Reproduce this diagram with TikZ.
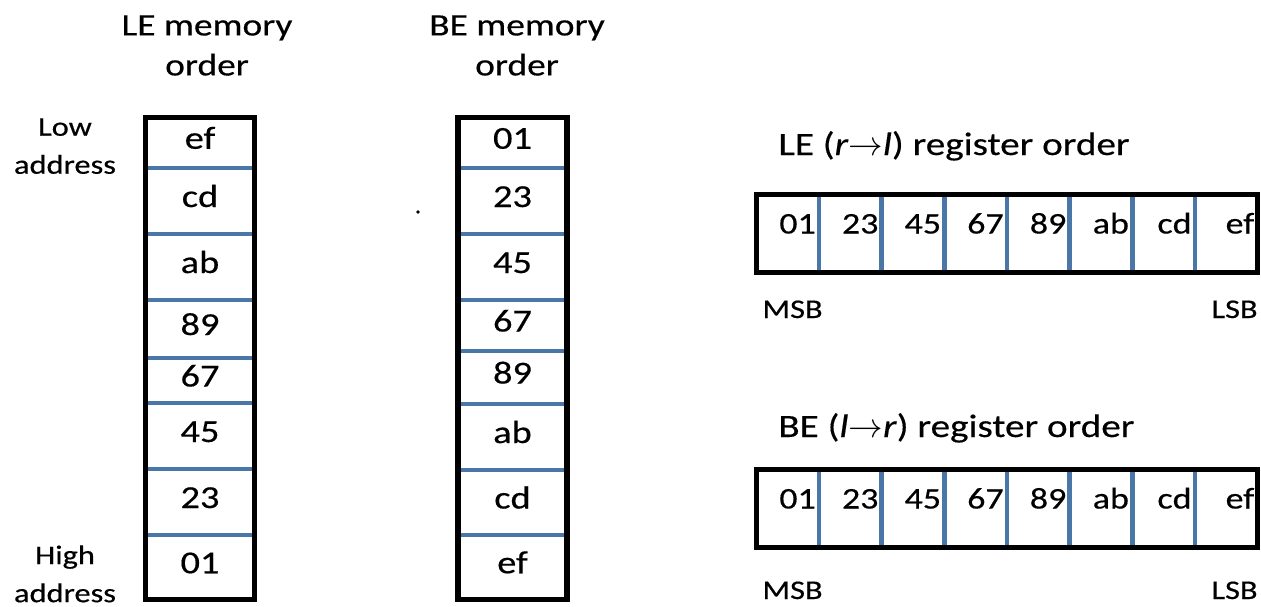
\documentclass[tikz,border=0pt]{standalone}
\usepackage{fontspec}
\setmainfont{Carlito}[FakeStretch=1.2, FakeBold=0.4]
\usetikzlibrary{positioning}

\definecolor{divblue}{RGB}{74,118,168}

\tikzset{
  memcell/.style={rectangle, inner sep=0pt, outer sep=0pt, minimum width=54.5pt,
    text height=8pt, text depth=2pt, font=\fontsize{16}{19}\selectfont},
  regcell/.style={rectangle, inner sep=0pt, outer sep=0pt, minimum width=31.3pt,
    minimum height=39pt, text width=28pt, align=right,
    text height=5pt, text depth=5pt, font=\fontsize{15}{18}\selectfont},
  divider/.style={draw=divblue, line width=2.3pt},
  frame/.style={draw=black, line width=2.6pt},
  heading/.style={inner sep=0pt, align=center, font=\fontsize{15.6}{20}\selectfont},
  regtitle/.style={inner sep=0pt, font=\fontsize{16.3}{20}\selectfont},
  sidelabel/.style={inner sep=0pt, align=center, font=\fontsize{13.5}{19}\selectfont}
}

\begin{document}
\begin{tikzpicture}[x=0.5pt, y=-0.5pt]
  \useasboundingbox (0,0) rectangle (1261,606);

  \node[heading, anchor=north] (lehead) at (207,15) {LE memory\\order};
  \node[heading, anchor=north] (behead) at (517,15) {BE memory\\order};
  \node[sidelabel, anchor=north] (low) at (65,118) {Low\\address};
  \node[sidelabel, anchor=north] (high) at (65,545) {High\\address};

  \foreach \t/\b/\txt [count=\i, evaluate={\hh=(\b-\t)*0.5; \yy=(\t+\b)/2;}] in
    {117.5/168/ef, 168/234/cd, 234/300/ab, 300/358/89, 358/403/67, 403/469/45, 469/535/23, 535/599.5/01}
    \node[memcell, minimum height=\hh pt] (le\i) at (200,\yy) {\txt};
  \foreach \t/\b/\txt [count=\i, evaluate={\hh=(\b-\t)*0.5; \yy=(\t+\b)/2;}] in
    {117.5/168/01, 168/234/23, 234/300/45, 300/351/67, 351/404/89, 404/470/ab, 470/535/cd, 535/599.5/ef}
    \node[memcell, minimum height=\hh pt] (be\i) at (512.5,\yy) {\txt};
  \foreach \i in {1,...,7} {
    \draw[divider] (le\i.south west) -- (le\i.south east);
    \draw[divider] (be\i.south west) -- (be\i.south east);
  }
  \draw[frame] (le1.north west) rectangle (le8.south east);
  \draw[frame] (be1.north west) rectangle (be8.south east);

  \fill (418,212) circle (0.9pt);

  \node[regtitle, anchor=base west] (letitle) at (778,155)
    {LE (\textit{r}$\rightarrow$\textit{l}) register order};
  \node[regtitle, anchor=base west] (betitle) at (778,437)
    {BE (\textit{l}$\rightarrow$\textit{r}) register order};

  \foreach \txt [count=\i] in {01,23,45,67,89,ab,cd,ef} {
    \node[regcell] (rle\i) at ({756.5+62.625*(\i-0.5)},233.5) {\txt};
    \node[regcell] (rbe\i) at ({756.5+62.625*(\i-0.5)},508.5) {\txt};
  }
  \foreach \i in {1,...,7} {
    \draw[divider] (rle\i.north east) -- (rle\i.south east);
    \draw[divider] (rbe\i.north east) -- (rbe\i.south east);
  }
  \draw[frame] (rle1.north west) rectangle (rle8.south east);
  \draw[frame] (rbe1.north west) rectangle (rbe8.south east);

  \node[sidelabel, anchor=base west] (lemsb) at (762,318) {MSB};
  \node[sidelabel, anchor=base east] (lelsb) at (1258,318) {LSB};
  \node[sidelabel, anchor=base west] (bemsb) at (762,599) {MSB};
  \node[sidelabel, anchor=base east] (belsb) at (1258,599) {LSB};
\end{tikzpicture}
\end{document}
